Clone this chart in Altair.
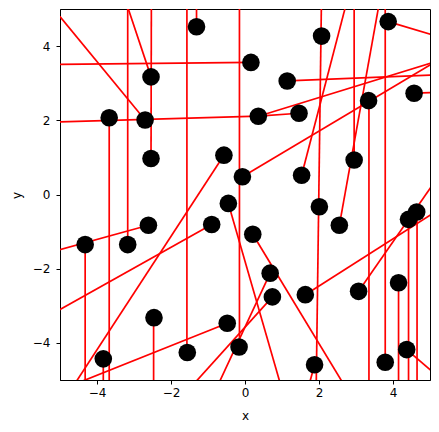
import altair as alt
import pandas as pd

# point positions
point_x = [-1.31, 3.87, 2.07, 0.16, -2.54, 1.14, -3.67, -2.70, 1.46, 0.36,
           3.34, 4.57, -2.54, -0.57, -0.07, 1.53, 2.95, -0.45, 2.01, 2.55,
           -0.90, -2.61, -4.32, -3.17, 0.21, 4.42, 4.64, 0.68, 0.74, 1.63,
           3.07, 4.15, -2.46, -0.48, -3.83, -1.56, -0.16, 1.88, 3.79, 4.37]
point_y = [4.52, 4.66, 4.27, 3.56, 3.17, 3.06, 2.07, 2.01, 2.19, 2.11,
           2.53, 2.73, 0.97, 1.06, 0.48, 0.52, 0.93, -0.24, -0.33, -0.83,
           -0.81, -0.83, -1.35, -1.35, -1.07, -0.67, -0.47, -2.12, -2.76, -2.70,
           -2.61, -2.38, -3.32, -3.47, -4.43, -4.26, -4.11, -4.59, -4.52, -4.18]

# line segments (endpoints may lie outside the visible range)
seg_x1 = [-5.5, -5.5, -3.17, -3.32, -2.54, -5.5, -3.67, -1.31, -1.57, -0.15,
          1.14, 0.36, 0.36, -0.07, 3.35, 4.57, 3.87, 2.07, 1.53, 2.95,
          2.55, 3.79, -0.57, -0.45, 0.21, 0.68, 0.74, -0.48, -2.47, -3.83,
          -4.32, -5.5, -5.5, 1.63, 3.07, 4.37, 4.15, 4.42, 4.65, 1.88]
seg_y1 = [5.40, 3.505, -1.35, 5.5, 0.97, 1.945, 2.07, 4.52, -4.26, -4.11,
          3.06, 2.11, 2.11, 0.48, 2.53, 2.73, 4.66, 5.5, 0.52, 0.93,
          -0.83, -4.52, 1.06, -0.24, -1.07, -2.12, -2.76, -3.47, -3.32, -4.43,
          -1.35, -1.62, -3.38, -2.70, -2.61, -4.18, -2.38, -0.67, -0.47, -4.59]
seg_x2 = [-2.70, 0.16, -3.17, -2.54, -2.53, 0.36, -3.67, -1.31, -1.57, -0.15,
          5.5, 1.46, 5.5, 5.5, 3.35, 5.5, 5.5, 1.92, 2.83, 2.95,
          3.69, 3.79, -4.86, 1.07, 2.90, -0.90, -1.74, -5.5, -2.47, -3.83,
          -4.32, -2.61, -0.90, 5.5, 5.5, 5.5, 4.15, 4.42, 4.65, 1.63]
seg_y2 = [2.01, 3.56, 5.5, 3.17, 5.5, 2.11, -5.5, 5.5, 5.5, 5.5,
          3.24, 2.19, 3.69, 3.79, -5.5, 2.76, 4.17, -5.5, 5.5, 5.5,
          5.5, 5.5, -5.5, -5.5, -5.5, -5.5, -5.5, -5.47, -5.5, -5.5,
          -5.5, -0.83, -0.81, -0.24, 0.88, -5.15, -5.5, -5.5, -5.5, -5.5]

ticks = [-4, -2, 0, 2, 4]

points = pd.DataFrame({"x": point_x, "y": point_y})
segs = pd.DataFrame({"x": seg_x1, "y": seg_y1, "x2": seg_x2, "y2": seg_y2})

FONT = "DejaVu Sans"
xscale = alt.Scale(domain=[-5, 5], nice=False, zero=False)
yscale = alt.Scale(domain=[-5, 5], nice=False, zero=False)
label_expr = "replace(datum.label, '-', '\u2212')"

xaxis = alt.Axis(values=ticks, title="x", grid=False, tickSize=4, labelPadding=3,
                 labelExpr=label_expr, titleX=185, titleY=35, titleBaseline="middle",
                 titleAlign="center")
yaxis = alt.Axis(values=ticks, title="y", grid=False, tickSize=4, labelPadding=6,
                 labelExpr=label_expr, titleX=-44, titleY=186, titleAngle=-90,
                 titleBaseline="middle", titleAlign="center")

lines = alt.Chart(segs).mark_rule(color="#ff0000", strokeWidth=1.7, clip=True).encode(
    x=alt.X("x:Q", scale=xscale, axis=xaxis),
    y=alt.Y("y:Q", scale=yscale, axis=yaxis),
    x2="x2:Q",
    y2="y2:Q",
)

dots = alt.Chart(points).mark_point(filled=True, shape="circle", color="black",
                                    size=310, opacity=1, clip=True).encode(
    x=alt.X("x:Q", scale=xscale),
    y=alt.Y("y:Q", scale=yscale),
)

chart = alt.layer(lines, dots).properties(
    width=370, height=371,
    autosize=alt.AutoSizeParams(type="none"),
    padding={"left": 52, "top": 1, "right": 1, "bottom": 45},
).configure_view(
    stroke="black", strokeWidth=1
).configure_axis(
    domainColor="black", tickColor="black", labelColor="black", titleColor="black",
    labelFont=FONT, titleFont=FONT, labelFontSize=12, titleFontSize=12,
    titleFontWeight="normal", domainWidth=1, tickWidth=1
)

chart.save("out.html", embed_options={"renderer": "svg", "actions": False})
